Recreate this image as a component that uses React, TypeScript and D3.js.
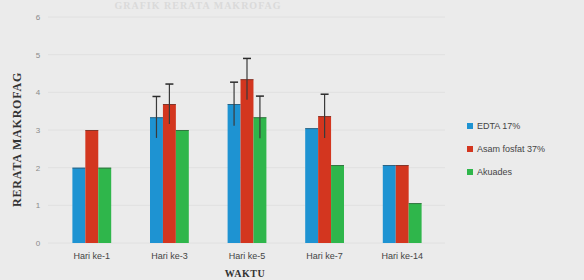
import React, { useEffect, useRef } from 'react';
import * as d3 from 'd3';

const categories = ['Hari ke-1', 'Hari ke-3', 'Hari ke-5', 'Hari ke-7', 'Hari ke-14'];
const seriesNames = ['EDTA 17%', 'Asam fosfat 37%', 'Akuades'];
const edtaValues = [2.0, 3.34, 3.69, 3.05, 2.07];
const asamValues = [3.0, 3.69, 4.35, 3.37, 2.07];
const akuadesValues = [2.0, 3.0, 3.34, 2.07, 1.06];
const edtaErrors = [0, 0.55, 0.58, 0, 0];
const asamErrors = [0, 0.53, 0.55, 0.58, 0];
const akuadesErrors = [0, 0, 0.56, 0, 0];
const yTicks = [0, 1, 2, 3, 4, 5, 6];
const colors = ['#1e93d2', '#d3361f', '#2fb64b'];

const width = 584;
const height = 280;

const App: React.FC = () => {
  const svgRef = useRef<SVGSVGElement>(null);

  useEffect(() => {
    if (!svgRef.current) return;
    const svg = d3.select(svgRef.current);
    svg.selectAll('*').remove();

    const values = [edtaValues, asamValues, akuadesValues];
    const errors = [edtaErrors, asamErrors, akuadesErrors];

    const x0 = d3.scaleBand().domain(categories).range([53, 441]).paddingInner(0.5).paddingOuter(0.25);
    const x1 = d3.scaleBand().domain(seriesNames).range([0, x0.bandwidth()]);
    const y = d3.scaleLinear().domain([0, 6]).range([243, 17]);

    svg.append('rect').attr('width', width).attr('height', height).attr('fill', '#ebebeb');

    // faint title at the top (mostly washed out in the original)
    svg.append('text')
      .attr('x', 198).attr('y', 9)
      .attr('text-anchor', 'middle')
      .attr('font-family', 'Liberation Serif, serif')
      .attr('font-weight', 'bold')
      .attr('font-size', '10px')
      .attr('fill', '#dadada')
      .attr('letter-spacing', '1px')
      .text('GRAFIK RERATA MAKROFAG');

    // gridlines
    svg.append('g')
      .selectAll('line')
      .data(yTicks)
      .enter()
      .append('line')
      .attr('x1', 48).attr('x2', 445)
      .attr('y1', d => y(d)).attr('y2', d => y(d))
      .attr('stroke', '#e0e0e0')
      .attr('stroke-width', 1);

    // y axis labels
    svg.append('g')
      .selectAll('text')
      .data(yTicks)
      .enter()
      .append('text')
      .attr('x', 38)
      .attr('y', d => y(d) + 3)
      .attr('text-anchor', 'middle')
      .attr('font-family', 'Liberation Sans, sans-serif')
      .attr('font-size', '8px')
      .attr('fill', '#8a8a8a')
      .text(d => d);

    // bars
    const groups = svg.append('g')
      .selectAll('g')
      .data(categories)
      .enter()
      .append('g')
      .attr('transform', d => `translate(${x0(d)},0)`);

    seriesNames.forEach((s, si) => {
      groups.append('rect')
        .attr('x', x1(s) as number)
        .attr('y', (_, i) => y(values[si][i]))
        .attr('width', x1.bandwidth())
        .attr('height', (_, i) => y(0) - y(values[si][i]))
        .attr('fill', colors[si]);

      groups.append('line')
        .attr('x1', x1(s) as number)
        .attr('x2', (x1(s) as number) + x1.bandwidth())
        .attr('y1', (_, i) => y(values[si][i]) + 0.5)
        .attr('y2', (_, i) => y(values[si][i]) + 0.5)
        .attr('stroke', '#333')
        .attr('stroke-opacity', 0.5)
        .attr('stroke-width', 1);
    });

    // error bars
    seriesNames.forEach((s, si) => {
      const cx = (x1(s) as number) + x1.bandwidth() / 2;
      const eb = groups.filter((_, i) => errors[si][i] > 0);
      const hi = (d: string) => y(values[si][categories.indexOf(d)] + errors[si][categories.indexOf(d)]);
      const lo = (d: string) => y(values[si][categories.indexOf(d)] - errors[si][categories.indexOf(d)]);
      eb.append('line')
        .attr('x1', cx).attr('x2', cx)
        .attr('y1', hi)
        .attr('y2', lo)
        .attr('stroke', '#3a3a3a')
        .attr('stroke-width', 1.2);
      eb.append('line')
        .attr('x1', cx - 4).attr('x2', cx + 4)
        .attr('y1', hi)
        .attr('y2', hi)
        .attr('stroke', '#2a2a2a')
        .attr('stroke-width', 1.5);
    });

    // x labels
    svg.append('g')
      .selectAll('text')
      .data(categories)
      .enter()
      .append('text')
      .attr('x', d => (x0(d) as number) + x0.bandwidth() / 2)
      .attr('y', 259)
      .attr('text-anchor', 'middle')
      .attr('font-family', 'Liberation Sans, sans-serif')
      .attr('font-size', '9px')
      .attr('fill', '#444')
      .text(d => d);

    // axis titles
    svg.append('text')
      .attr('x', 245).attr('y', 277)
      .attr('text-anchor', 'middle')
      .attr('font-family', 'Liberation Serif, serif')
      .attr('font-weight', 'bold')
      .attr('font-size', '10px')
      .attr('letter-spacing', '0.5px')
      .attr('fill', '#333')
      .text('WAKTU');

    svg.append('text')
      .attr('transform', `translate(21,${y(2.75)}) rotate(-90)`)
      .attr('text-anchor', 'middle')
      .attr('font-family', 'Liberation Serif, serif')
      .attr('font-weight', 'bold')
      .attr('font-size', '12px')
      .attr('letter-spacing', '0.8px')
      .attr('fill', '#333')
      .text('RERATA MAKROFAG');

    // legend
    const legend = svg.append('g')
      .selectAll('g')
      .data(seriesNames)
      .enter()
      .append('g')
      .attr('transform', (_, i) => `translate(467,${126 + i * 23})`);
    legend.append('rect')
      .attr('x', 0).attr('y', -3)
      .attr('width', 6).attr('height', 6)
      .attr('fill', (_, i) => colors[i]);
    legend.append('text')
      .attr('x', 10).attr('y', 3)
      .attr('font-family', 'Liberation Sans, sans-serif')
      .attr('font-size', '9px')
      .attr('fill', '#444')
      .text(d => d);
  }, []);

  return (
    <div style={{ position: 'fixed', top: 0, left: 0 }}>
      <svg ref={svgRef} width={width} height={height} style={{ display: 'block' }} />
    </div>
  );
};

export default App;
